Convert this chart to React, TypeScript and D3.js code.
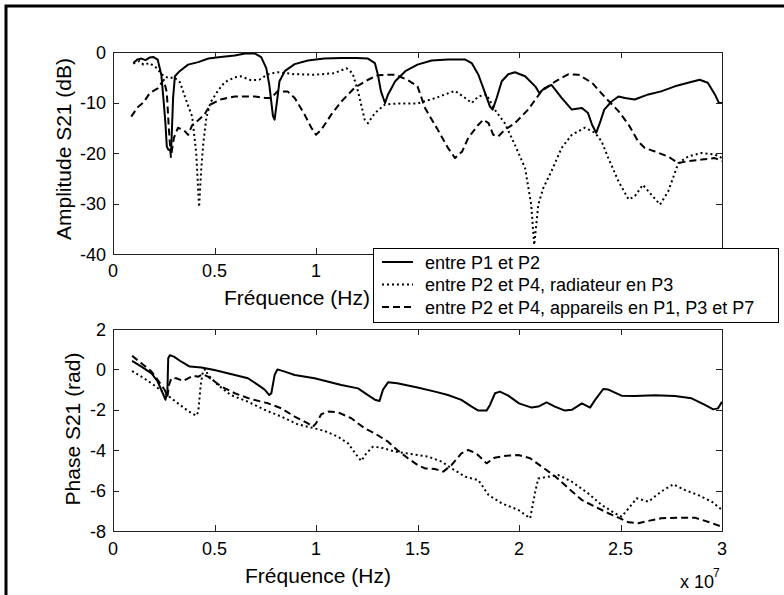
import React from 'react';
import * as d3 from 'd3';

// ---------- data (frequency in units of 1e7 Hz) ----------
const xTicks = [0, 0.5, 1, 1.5, 2, 2.5, 3];
const xTickLabels = ['0', '0.5', '1', '1.5', '2', '2.5', '3'];
const ampTicks = [0, -10, -20, -30, -40];
const phaseTicks = [2, 0, -2, -4, -6, -8];
const legendLabels = [
  'entre P1 et P2',
  'entre P2 et P4, radiateur en P3',
  'entre P2 et P4, appareils en P1, P3 et P7',
];

// Amplitude, entre P1 et P2 (solid)
const ampP1P2F = [0.1, 0.12, 0.14, 0.16, 0.18, 0.2, 0.22, 0.238, 0.25, 0.258, 0.265, 0.272, 0.28, 0.287, 0.296, 0.305, 0.328, 0.37, 0.42, 0.47, 0.53, 0.6, 0.65, 0.7, 0.73, 0.755, 0.77, 0.788, 0.796, 0.81, 0.82, 0.846, 0.895, 0.96, 1.04, 1.125, 1.2, 1.256, 1.29, 1.305, 1.32, 1.34, 1.355, 1.39, 1.44, 1.5, 1.57, 1.65, 1.735, 1.767, 1.8, 1.83, 1.857, 1.87, 1.89, 1.915, 1.947, 1.98, 2.03, 2.08, 2.1, 2.128, 2.16, 2.21, 2.26, 2.31, 2.34, 2.36, 2.38, 2.398, 2.42, 2.456, 2.49, 2.522, 2.57, 2.637, 2.7, 2.768, 2.833, 2.89, 2.93, 2.965, 2.985, 3.0];
const ampP1P2 = [-2.2, -1.5, -1.3, -1.6, -1.1, -1.0, -1.5, -4.5, -10, -14, -18.7, -19.3, -19.5, -19, -9.1, -4.8, -3.8, -2.5, -2.0, -1.3, -1.0, -0.7, -0.3, -0.3, -1.0, -3.2, -6.5, -12.7, -13.4, -9.1, -5.8, -3.8, -2.4, -1.7, -1.3, -1.2, -1.2, -1.3, -2.2, -4.5, -7.8, -10.1, -8.4, -5.8, -3.8, -2.5, -1.7, -1.5, -1.5, -2.2, -4.5, -7.8, -10.8, -11.4, -9.1, -5.8, -4.4, -4.0, -4.8, -6.8, -8.1, -7.1, -6.5, -9.1, -11.4, -11.1, -12.1, -14.4, -16.0, -14.1, -11.4, -9.8, -8.8, -9.1, -9.4, -8.4, -7.8, -6.8, -6.1, -5.5, -6.1, -8.4, -10.1, -10.1];

// Amplitude, radiateur en P3 (dotted)
const ampRadF = [0.1, 0.13, 0.15, 0.18, 0.21, 0.25, 0.28, 0.3, 0.33, 0.36, 0.39, 0.41, 0.424, 0.435, 0.445, 0.46, 0.48, 0.52, 0.55, 0.6, 0.63, 0.68, 0.72, 0.764, 0.81, 0.895, 0.993, 1.09, 1.15, 1.18, 1.207, 1.24, 1.256, 1.29, 1.34, 1.4, 1.5, 1.59, 1.635, 1.685, 1.735, 1.767, 1.8, 1.84, 1.88, 1.93, 1.98, 2.03, 2.06, 2.075, 2.095, 2.12, 2.16, 2.21, 2.26, 2.325, 2.375, 2.407, 2.44, 2.49, 2.54, 2.57, 2.61, 2.653, 2.695, 2.735, 2.785, 2.833, 2.9, 2.965, 3.0];
const ampRad = [-2.3, -1.8, -2.5, -2.2, -3.0, -4.8, -5.2, -5.0, -6.0, -9.5, -12.8, -20, -30.7, -23, -18, -13, -10, -7.5, -6.0, -5.0, -4.8, -5.6, -5.5, -4.4, -4.0, -4.4, -4.5, -4.2, -3.2, -4.2, -7.8, -13.4, -14.1, -12.1, -10.4, -10.2, -10.2, -9.1, -8.4, -7.7, -9.1, -10.1, -8.8, -8.4, -11.4, -14.1, -18.4, -23, -30.2, -38.2, -30.2, -26.9, -23.6, -19, -16.4, -15, -16, -17.7, -21, -25.6, -29.2, -28.6, -26.3, -28.3, -30.2, -27.6, -22, -20.7, -20, -20.3, -21];

// Amplitude, appareils en P1, P3 et P7 (dashed)
const ampAppF = [0.09, 0.12, 0.15, 0.18, 0.22, 0.25, 0.265, 0.275, 0.285, 0.3, 0.32, 0.35, 0.37, 0.39, 0.42, 0.45, 0.48, 0.53, 0.6, 0.7, 0.75, 0.78, 0.81, 0.86, 0.895, 0.944, 0.977, 1.0, 1.026, 1.075, 1.125, 1.19, 1.256, 1.305, 1.35, 1.39, 1.45, 1.5, 1.537, 1.6, 1.65, 1.685, 1.72, 1.75, 1.8, 1.824, 1.85, 1.873, 1.898, 1.93, 1.98, 2.045, 2.11, 2.18, 2.244, 2.293, 2.36, 2.42, 2.49, 2.54, 2.587, 2.62, 2.67, 2.735, 2.785, 2.833, 2.9, 2.965, 3.0];
const ampApp = [-12.8, -11, -10, -8.2, -7.2, -5.5, -8, -15, -20.8, -17, -15, -15.5, -16.4, -14.5, -13.5, -12.4, -10.4, -9.4, -8.8, -8.8, -9.1, -9.1, -7.8, -7.8, -9.1, -12.4, -15, -16.4, -15.4, -12.4, -9.8, -7.1, -5.5, -4.6, -4.5, -4.5, -5.5, -6.8, -11.1, -15.4, -19, -21, -19.7, -17, -14.4, -13.4, -14.1, -16.4, -16.7, -15.4, -14.1, -11.4, -7.8, -5.8, -4.4, -4.5, -6.1, -8.8, -11.7, -14.4, -17.7, -19, -19.7, -20.7, -22, -21.6, -21.3, -21, -21.6];

// Phase, entre P1 et P2 (solid)
const phP1P2F = [0.094, 0.14, 0.19, 0.22, 0.246, 0.258, 0.268, 0.272, 0.28, 0.3, 0.337, 0.378, 0.435, 0.5, 0.6, 0.665, 0.714, 0.747, 0.77, 0.78, 0.796, 0.81, 0.846, 0.895, 0.993, 1.125, 1.207, 1.256, 1.29, 1.313, 1.33, 1.355, 1.4, 1.5, 1.586, 1.65, 1.716, 1.767, 1.8, 1.84, 1.857, 1.882, 1.906, 1.947, 2.0, 2.062, 2.095, 2.136, 2.177, 2.226, 2.26, 2.31, 2.35, 2.375, 2.415, 2.44, 2.505, 2.57, 2.67, 2.768, 2.85, 2.916, 2.957, 2.98, 3.0];
const phP1P2 = [0.42, 0.14, -0.2, -0.6, -1.2, -1.5, -1.1, 0.55, 0.7, 0.63, 0.38, 0.14, 0.09, -0.03, -0.28, -0.44, -0.77, -1.0, -1.27, -1.18, -0.28, 0.0, -0.11, -0.28, -0.44, -0.77, -0.94, -1.27, -1.5, -1.56, -1.0, -0.64, -0.69, -0.9, -1.1, -1.27, -1.51, -1.84, -2.04, -2.04, -1.76, -1.18, -1.1, -1.3, -1.68, -1.89, -1.84, -1.63, -1.84, -2.04, -2.0, -1.68, -1.89, -1.51, -0.97, -1.0, -1.3, -1.32, -1.28, -1.32, -1.43, -1.76, -1.98, -1.93, -1.6];

// Phase, radiateur en P3 (dotted)
const phRadF = [0.094, 0.14, 0.19, 0.255, 0.32, 0.37, 0.41, 0.42, 0.432, 0.443, 0.455, 0.468, 0.517, 0.58, 0.665, 0.747, 0.83, 0.91, 0.977, 1.043, 1.108, 1.158, 1.2, 1.223, 1.248, 1.28, 1.32, 1.39, 1.453, 1.5, 1.553, 1.62, 1.668, 1.735, 1.8, 1.85, 1.915, 1.997, 2.055, 2.08, 2.095, 2.144, 2.194, 2.26, 2.34, 2.407, 2.472, 2.505, 2.54, 2.58, 2.637, 2.7, 2.76, 2.817, 2.883, 2.95, 3.0];
const phRad = [-0.08, -0.36, -0.69, -1.18, -1.68, -2.06, -2.29, -2.1, -0.77, -0.11, 0.02, -0.28, -0.77, -1.27, -1.6, -2.0, -2.34, -2.72, -2.88, -3.05, -3.33, -3.66, -4.24, -4.53, -4.16, -3.83, -3.87, -4.07, -4.16, -4.24, -4.32, -4.57, -4.9, -5.31, -5.48, -6.22, -6.63, -6.96, -7.37, -6.05, -5.4, -5.31, -5.23, -5.56, -6.13, -6.71, -7.12, -7.29, -6.88, -6.38, -6.55, -6.05, -5.69, -5.97, -6.22, -6.55, -6.96];

// Phase, appareils en P1, P3 et P7 (dashed)
const phAppF = [0.094, 0.14, 0.19, 0.22, 0.255, 0.268, 0.276, 0.287, 0.312, 0.345, 0.37, 0.394, 0.42, 0.443, 0.468, 0.534, 0.6, 0.68, 0.764, 0.83, 0.895, 0.96, 0.985, 1.0, 1.026, 1.06, 1.108, 1.174, 1.24, 1.29, 1.355, 1.4, 1.453, 1.5, 1.537, 1.586, 1.627, 1.668, 1.716, 1.75, 1.79, 1.84, 1.88, 1.94, 1.997, 2.055, 2.11, 2.18, 2.244, 2.31, 2.375, 2.44, 2.49, 2.54, 2.587, 2.637, 2.7, 2.8, 2.866, 2.93, 3.0];
const phApp = [0.68, 0.3, -0.11, -0.52, -1.02, -1.35, -0.77, -0.44, -0.44, -0.57, -0.44, -0.31, -0.36, -0.24, -0.36, -0.85, -1.18, -1.47, -1.68, -1.93, -2.34, -2.67, -2.84, -2.67, -2.22, -2.09, -2.12, -2.42, -2.92, -3.17, -3.58, -3.99, -4.4, -4.73, -4.9, -4.93, -5.06, -4.73, -4.16, -3.99, -4.16, -4.65, -4.37, -4.27, -4.24, -4.4, -4.8, -5.31, -5.89, -6.47, -6.8, -7.12, -7.34, -7.57, -7.62, -7.5, -7.37, -7.34, -7.34, -7.54, -7.79];

// ---------- presentation ----------
const FONT = '"Liberation Sans", Arial, Helvetica, sans-serif';
const DASHES = ['none', '2,3', '7,4'];
const AXIS = '#222';
const LEGEND_LEFT = 373.5;

const x = d3.scaleLinear().domain([0, 3]).range([113, 722]);
const yAmp = d3.scaleLinear().domain([-40, 0]).range([254, 52]);
const yPh = d3.scaleLinear().domain([-8, 2]).range([531, 329]);

function linePath(fs: number[], vs: number[], y: d3.ScaleLinear<number, number>) {
  const pts: [number, number][] = fs.map((f, i) => [f, vs[i]]);
  return d3.line<[number, number]>().x(d => x(d[0])).y(d => y(d[1]))(pts) || '';
}

function Axes(props: {
  y: d3.ScaleLinear<number, number>;
  yTicks: number[];
  series: { f: number[]; v: number[] }[];
  clipId: string;
  tickBaseline: number;
  hideUnderLegend: boolean;
}) {
  const { y, yTicks, series, clipId, tickBaseline, hideUnderLegend } = props;
  const [x0, x1] = x.range();
  const yb = y.range()[0];
  const yt = y.range()[1];
  const tl = 6;
  return (
    <g>
      <defs>
        <clipPath id={clipId}>
          <rect x={x0} y={yt} width={x1 - x0} height={yb - yt} />
        </clipPath>
      </defs>
      <g clipPath={`url(#${clipId})`}>
        {series.map((s, i) => (
          <path key={i} d={linePath(s.f, s.v, y)} fill="none" stroke="#000" strokeWidth={2}
            strokeDasharray={DASHES[i]} strokeLinejoin="round" />
        ))}
      </g>
      <rect x={x0 + 0.5} y={yt + 0.5} width={x1 - x0} height={yb - yt} fill="none" stroke={AXIS} strokeWidth={1} />
      {xTicks.map((t, i) => {
        const px = Math.round(x(t)) + 0.5;
        const hidden = hideUnderLegend && x(t) + 14 > LEGEND_LEFT;
        return (
          <g key={'x' + i}>
            <line x1={px} x2={px} y1={yb} y2={yb - tl} stroke={AXIS} />
            <line x1={px} x2={px} y1={yt} y2={yt + tl} stroke={AXIS} />
            {!hidden && (
              <text x={x(t)} y={tickBaseline} textAnchor="middle" fontSize={18} fontFamily={FONT} fill="#000">
                {xTickLabels[i]}
              </text>
            )}
          </g>
        );
      })}
      {yTicks.map((t, i) => {
        const py = Math.round(y(t)) + 0.5;
        return (
          <g key={'y' + i}>
            <line x1={x0} x2={x0 + tl} y1={py} y2={py} stroke={AXIS} />
            <line x1={x1} x2={x1 - tl} y1={py} y2={py} stroke={AXIS} />
            <text x={106} y={y(t) + 6.5} textAnchor="end" fontSize={18} fontFamily={FONT} fill="#000">
              {String(t)}
            </text>
          </g>
        );
      })}
    </g>
  );
}

export default function App() {
  const ampSeries = [
    { f: ampP1P2F, v: ampP1P2 },
    { f: ampRadF, v: ampRad },
    { f: ampAppF, v: ampApp },
  ];
  const phSeries = [
    { f: phP1P2F, v: phP1P2 },
    { f: phRadF, v: phRad },
    { f: phAppF, v: phApp },
  ];
  const legendRows = [262, 284.5, 307];
  return (
    <svg width={784} height={595} style={{ position: 'absolute', left: 0, top: 0, background: '#fff' }}
      xmlns="http://www.w3.org/2000/svg">
      <rect x={0} y={0} width={784} height={595} fill="#fff" />
      <path d="M6,595 V6 H784" fill="none" stroke="#000" strokeWidth={3} />

      <Axes y={yAmp} yTicks={ampTicks} series={ampSeries} clipId="clipAmp" tickBaseline={277} hideUnderLegend={true} />
      <text x={297} y={305} textAnchor="middle" fontSize={21} fontFamily={FONT}>Fréquence (Hz)</text>
      <text transform="translate(71,149) rotate(-90)" textAnchor="middle" fontSize={21} fontFamily={FONT}>
        Amplitude S21 (dB)
      </text>

      <Axes y={yPh} yTicks={phaseTicks} series={phSeries} clipId="clipPh" tickBaseline={555} hideUnderLegend={false} />
      <text x={318} y={583} textAnchor="middle" fontSize={21} fontFamily={FONT}>Fréquence (Hz)</text>
      <text transform="translate(80,429) rotate(-90)" textAnchor="middle" fontSize={21} fontFamily={FONT}>
        Phase S21 (rad)
      </text>
      <text x={680} y={588} fontSize={18} fontFamily={FONT}>x 10</text>
      <text x={713} y={577} fontSize={12} fontFamily={FONT}>7</text>

      <g>
        <rect x={LEGEND_LEFT} y={248.5} width={405} height={74} fill="#fff" stroke="#000" strokeWidth={1} />
        {legendLabels.map((lab, i) => (
          <g key={i}>
            <line x1={382} x2={413} y1={legendRows[i]} y2={legendRows[i]} stroke="#000" strokeWidth={2}
              strokeDasharray={DASHES[i]} />
            <text x={425} y={legendRows[i] + 6.5} fontSize={18} fontFamily={FONT}>{lab}</text>
          </g>
        ))}
      </g>
    </svg>
  );
}
